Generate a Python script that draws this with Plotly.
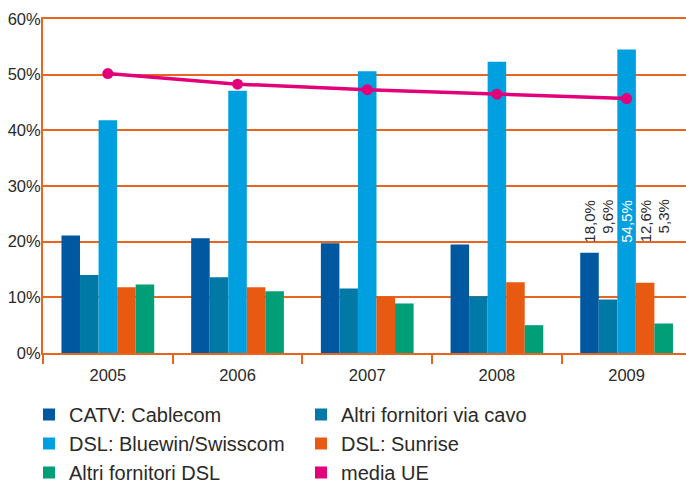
import plotly.graph_objects as go

years = ["2005", "2006", "2007", "2008", "2009"]
catv_cablecom = [21.1, 20.6, 19.7, 19.5, 18.0]
altri_cavo = [14.0, 13.6, 11.6, 10.2, 9.6]
dsl_swisscom = [41.8, 47.1, 50.6, 52.3, 54.5]
dsl_sunrise = [11.8, 11.8, 10.1, 12.7, 12.6]
altri_dsl = [12.3, 11.1, 8.9, 5.0, 5.3]
media_ue = [50.2, 48.3, 47.3, 46.5, 45.7]
y_ticks = [0, 10, 20, 30, 40, 50, 60]
y_ticklabels = ["0%", "10%", "20%", "30%", "40%", "50%", "60%"]

names = ["CATV: Cablecom", "Altri fornitori via cavo", "DSL: Bluewin/Swisscom",
         "DSL: Sunrise", "Altri fornitori DSL"]
series = [catv_cablecom, altri_cavo, dsl_swisscom, dsl_sunrise, altri_dsl]
colors = ["#0058a0", "#0079a6", "#009fdf", "#e85a12", "#009f78"]
legends = ["legend", "legend2", "legend", "legend2", "legend"]
magenta = "#e2007a"
orange = "#e8651f"
FONT = "Liberation Sans, Arial, sans-serif"
TXT = "#2a2a2a"

W, H = 686, 485
ML, MR, MT, MB = 43, 0, 19, 132
PW, PH = W - ML - MR, H - MT - MB


def px_x(px):
    return (px - ML) / PW


def px_y(py):
    return (H - MB - py) / PH


fig = go.Figure()
for n, s, c, lg in zip(names, series, colors, legends):
    fig.add_trace(go.Bar(x=years, y=s, name=n, marker=dict(color=c, line=dict(width=0)),
                         legend=lg, hoverinfo="y"))

fig.add_trace(go.Scatter(x=years, y=media_ue, mode="lines+markers", showlegend=False,
                         line=dict(color=magenta, width=3.5),
                         marker=dict(size=11, color=magenta)))
fig.add_trace(go.Scatter(x=[None], y=[None], mode="markers", name="media UE", legend="legend2",
                         marker=dict(symbol="square", size=12, color=magenta)))

# value labels for 2009
slot = (1 - 0.285) / 5
last = len(years) - 1
for i, s in enumerate(series):
    txt = ("%.1f%%" % s[last]).replace(".", ",")
    fig.add_annotation(x=last + (i - 2) * slot, y=27.9, xref="x", yref="y",
                       text=txt, textangle=-90, showarrow=False,
                       xanchor="center", yanchor="top",
                       font=dict(family=FONT, size=15,
                                 color="white" if i == 2 else TXT))

legend_style = dict(xanchor="left", yanchor="top", bgcolor="rgba(0,0,0,0)",
                    font=dict(family=FONT, size=20, color=TXT), tracegroupgap=0)
fig.update_layout(
    width=W, height=H,
    margin=dict(l=ML, r=MR, t=MT, b=MB, autoexpand=False),
    paper_bgcolor="white", plot_bgcolor="white",
    barmode="group", bargap=0.285, bargroupgap=0,
    font=dict(family=FONT, color=TXT),
    legend=dict(x=px_x(29), y=px_y(395), **legend_style),
    legend2=dict(x=px_x(301), y=px_y(395), **legend_style),
)
fig.update_xaxes(range=[-0.5, 4.458], showgrid=False, showline=True, linecolor=orange,
                 linewidth=2, mirror=True, ticks="outside", tickson="boundaries",
                 ticklen=9, tickwidth=2, tickcolor=orange, tickangle=0,
                 ticklabelstandoff=6,
                 tickfont=dict(family=FONT, size=16.5, color=TXT))
fig.update_yaxes(range=[0, 60], tickvals=y_ticks, ticktext=y_ticklabels,
                 showgrid=True, gridcolor=orange, gridwidth=1.5,
                 showline=True, linecolor=orange, linewidth=2, zeroline=False,
                 ticks="", ticklabelstandoff=-3,
                 tickfont=dict(family=FONT, size=16.5, color=TXT))

fig.write_html("out.html", config={"displayModeBar": False},
               post_script="document.body.style.margin='0';document.body.style.overflow='hidden';")
